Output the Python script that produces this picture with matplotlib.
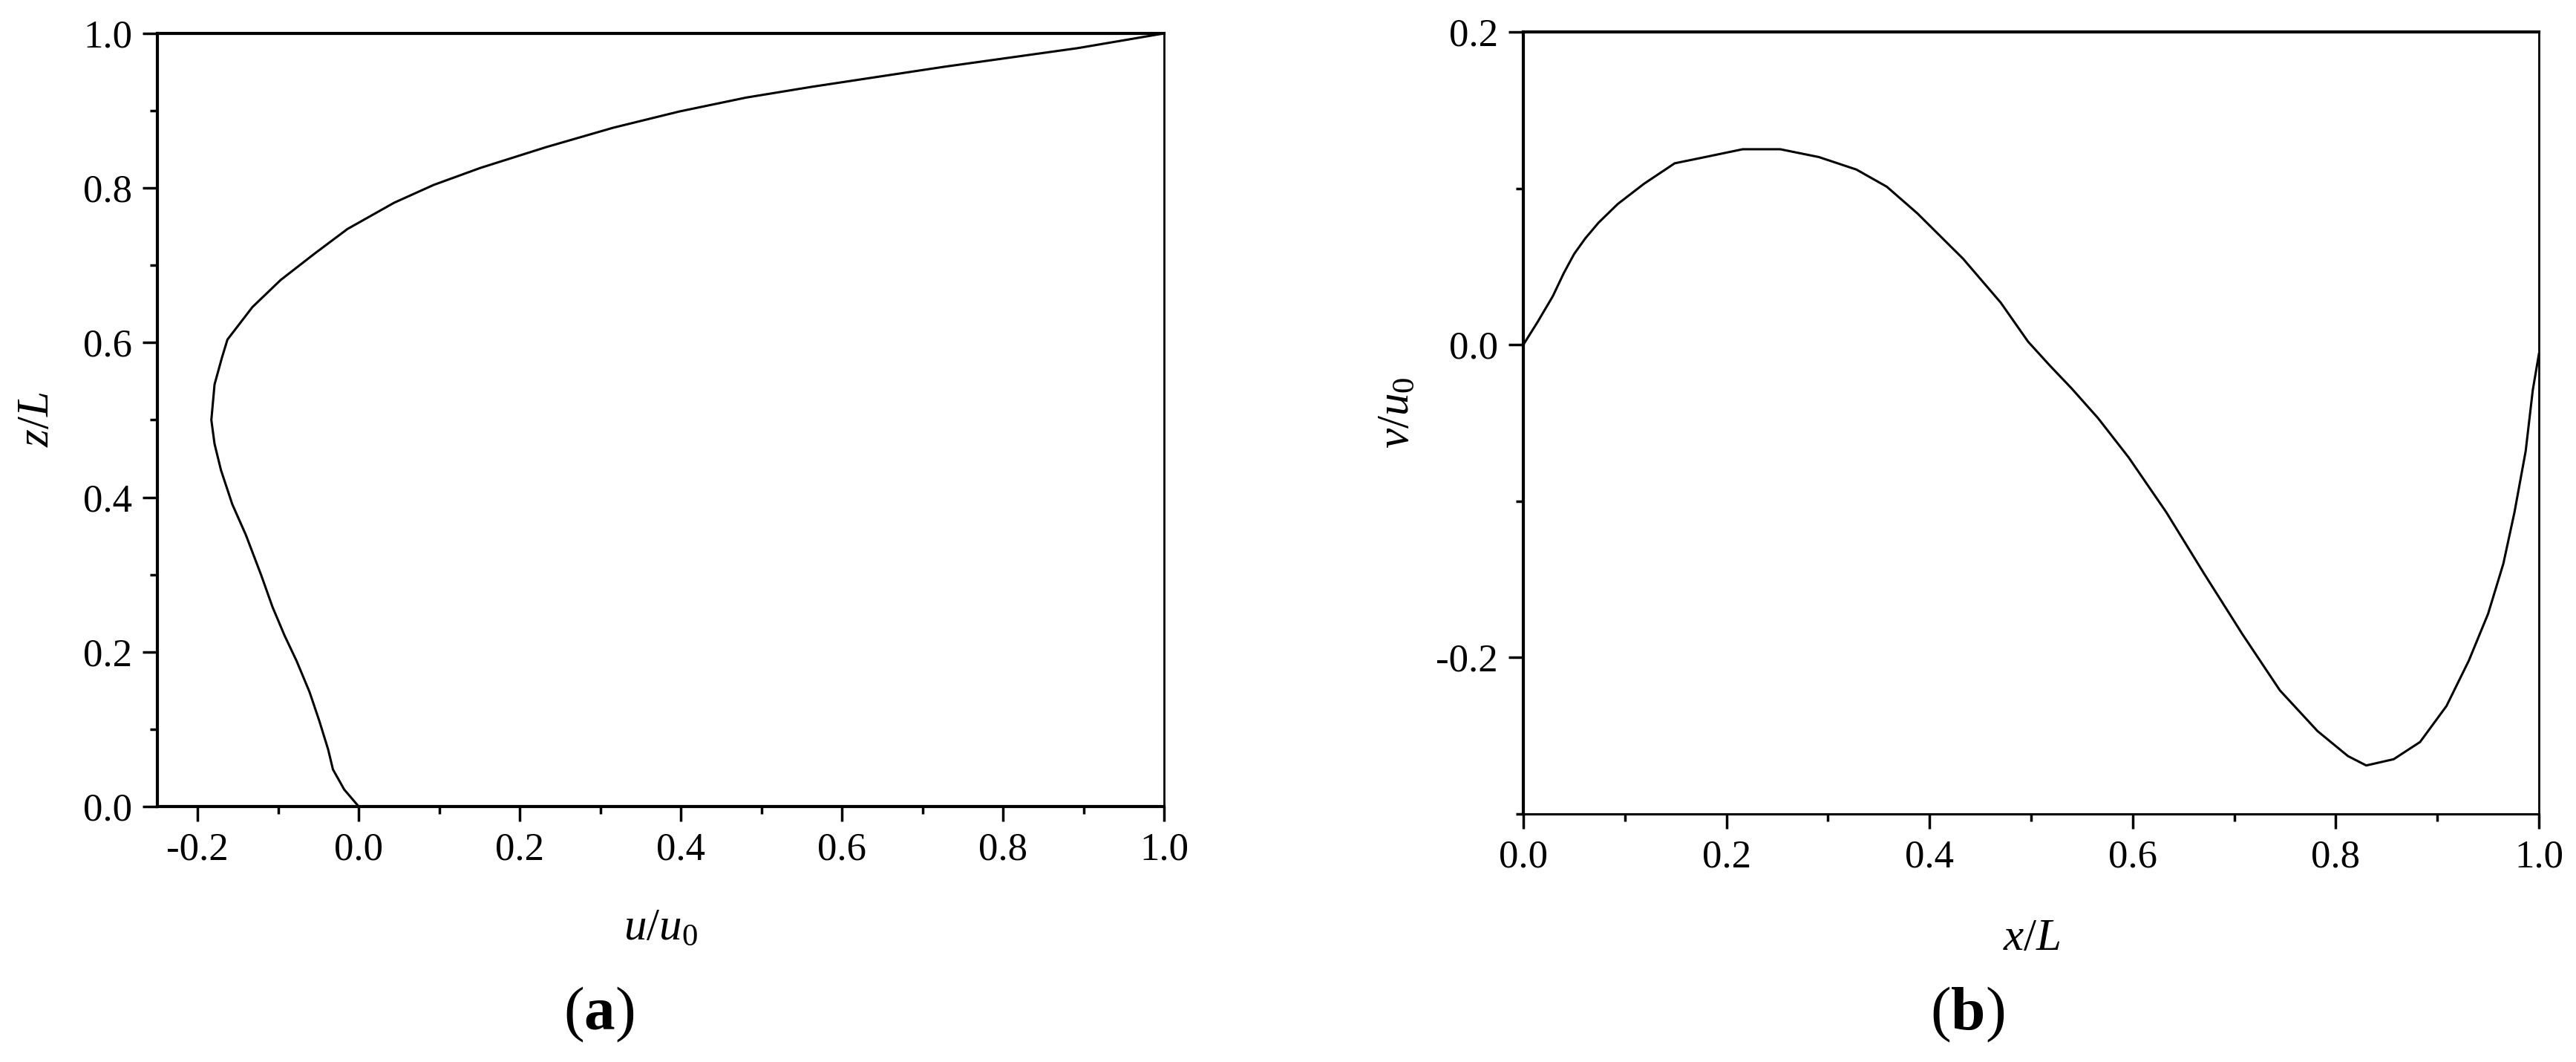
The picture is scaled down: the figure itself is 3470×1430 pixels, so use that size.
import matplotlib
matplotlib.use("Agg")
import matplotlib.pyplot as plt
from matplotlib.ticker import MultipleLocator, FormatStrFormatter

# ---------------- data ----------------
# panel (a): horizontal velocity profile u/u0 against height z/L
z_a = [0.000, 0.022, 0.048, 0.074, 0.111, 0.148, 0.188, 0.221, 0.258, 0.299,
       0.351, 0.391, 0.435, 0.469, 0.500, 0.546, 0.580, 0.604, 0.646, 0.681,
       0.715, 0.747, 0.781, 0.804, 0.826, 0.853, 0.878, 0.899, 0.917, 0.931,
       0.957, 0.981, 1.000]
u_a = [0.000, -0.018, -0.032, -0.038, -0.049, -0.061, -0.077, -0.092, -0.107, -0.121,
       -0.140, -0.157, -0.171, -0.179, -0.183, -0.179, -0.170, -0.163, -0.132, -0.097,
       -0.055, -0.014, 0.044, 0.093, 0.151, 0.233, 0.316, 0.398, 0.481, 0.563,
       0.728, 0.893, 1.000]

# panel (b): vertical velocity v/u0 against x/L
x_b = [0.000, 0.014, 0.029, 0.040, 0.050, 0.061, 0.074, 0.093, 0.119, 0.149,
       0.179, 0.216, 0.253, 0.291, 0.328, 0.358, 0.388, 0.433, 0.470, 0.497,
       0.518, 0.540, 0.566, 0.596, 0.633, 0.670, 0.708, 0.745, 0.782, 0.812,
       0.830, 0.857, 0.883, 0.909, 0.931, 0.950, 0.965, 0.976, 0.987, 0.994, 1.000]
v_b = [0.000, 0.0145, 0.031, 0.046, 0.058, 0.068, 0.078, 0.090, 0.103, 0.116,
       0.120, 0.125, 0.125, 0.120, 0.112, 0.101, 0.084, 0.055, 0.027, 0.002,
       -0.013, -0.028, -0.047, -0.072, -0.107, -0.146, -0.185, -0.221, -0.247, -0.263,
       -0.269, -0.265, -0.254, -0.231, -0.202, -0.172, -0.140, -0.107, -0.068, -0.029, -0.006]

xlabel_a = r"$u/u_{0}$"
ylabel_a = r"$z/L$"
xlabel_b = r"$x/L$"
ylabel_b = r"$v/u_{0}$"
panel_labels = [r"($\mathbf{a}$)", r"($\mathbf{b}$)"]

# ---------------- style ----------------
plt.rcParams["font.family"] = ["Liberation Serif", "DejaVu Serif"]
plt.rcParams["mathtext.fontset"] = "custom"
plt.rcParams["mathtext.rm"] = "Liberation Serif"
plt.rcParams["mathtext.it"] = "Liberation Serif:italic"
plt.rcParams["mathtext.bf"] = "Liberation Serif:bold"
plt.rcParams["axes.unicode_minus"] = False

W, H = 3470, 1430
fig = plt.figure(figsize=(W / 100, H / 100), dpi=100)
fig.patch.set_facecolor("white")


def fx(px):
    return px / W


def fy(py):
    return 1 - py / H


ax1 = fig.add_axes([fx(212), fy(1086), 1356 / W, 1041 / H])
ax2 = fig.add_axes([fx(2052), fy(1096), 1368 / W, 1053 / H])

TICK_FS = 38
LABEL_FS = 44


def style(ax, bottom_lw):
    for s in ["left", "top"]:
        ax.spines[s].set_linewidth(3.0)
    ax.spines["bottom"].set_linewidth(bottom_lw)
    ax.spines["right"].set_linewidth(2.0)
    ax.tick_params(which="both", direction="out", top=False, right=False,
                   labelsize=TICK_FS, pad=10)
    ax.tick_params(which="major", length=14.5, width=2.5)
    ax.tick_params(which="minor", length=7, width=2.5)
    ax.xaxis.set_major_formatter(FormatStrFormatter("%.1f"))
    ax.yaxis.set_major_formatter(FormatStrFormatter("%.1f"))


# panel (a)
ax1.plot(u_a, z_a, color="black", lw=2.2, clip_on=False, solid_joinstyle="round")
ax1.set_xlim(-0.25, 1.0)
ax1.set_ylim(0.0, 1.0)
ax1.xaxis.set_major_locator(MultipleLocator(0.2))
ax1.xaxis.set_minor_locator(MultipleLocator(0.1))
ax1.yaxis.set_major_locator(MultipleLocator(0.2))
ax1.yaxis.set_minor_locator(MultipleLocator(0.1))
style(ax1, 3.0)

# panel (b)
ax2.plot(x_b, v_b, color="black", lw=2.2, clip_on=False, solid_joinstyle="round")
ax2.set_xlim(0.0, 1.0)
ax2.set_ylim(-0.3, 0.2)
ax2.xaxis.set_major_locator(MultipleLocator(0.2))
ax2.xaxis.set_minor_locator(MultipleLocator(0.1))
ax2.yaxis.set_major_locator(MultipleLocator(0.2))
ax2.yaxis.set_minor_locator(MultipleLocator(0.1))
style(ax2, 2.2)

# axis labels
fig.text(fx(890), fy(1265), xlabel_a, fontsize=LABEL_FS, ha="center", va="baseline")
fig.text(fx(50), fy(565), ylabel_a, fontsize=LABEL_FS, ha="center", va="center", rotation=90)
fig.text(fx(2737), fy(1279), xlabel_b, fontsize=LABEL_FS, ha="center", va="baseline")
fig.text(fx(1882), fy(556), ylabel_b, fontsize=LABEL_FS, ha="center", va="center", rotation=90)

# panel letters
fig.text(fx(807), fy(1386), panel_labels[0], fontsize=60, ha="center", va="baseline")
fig.text(fx(2650), fy(1386), panel_labels[1], fontsize=60, ha="center", va="baseline")

fig.savefig("out.png", dpi=100, facecolor="white")
